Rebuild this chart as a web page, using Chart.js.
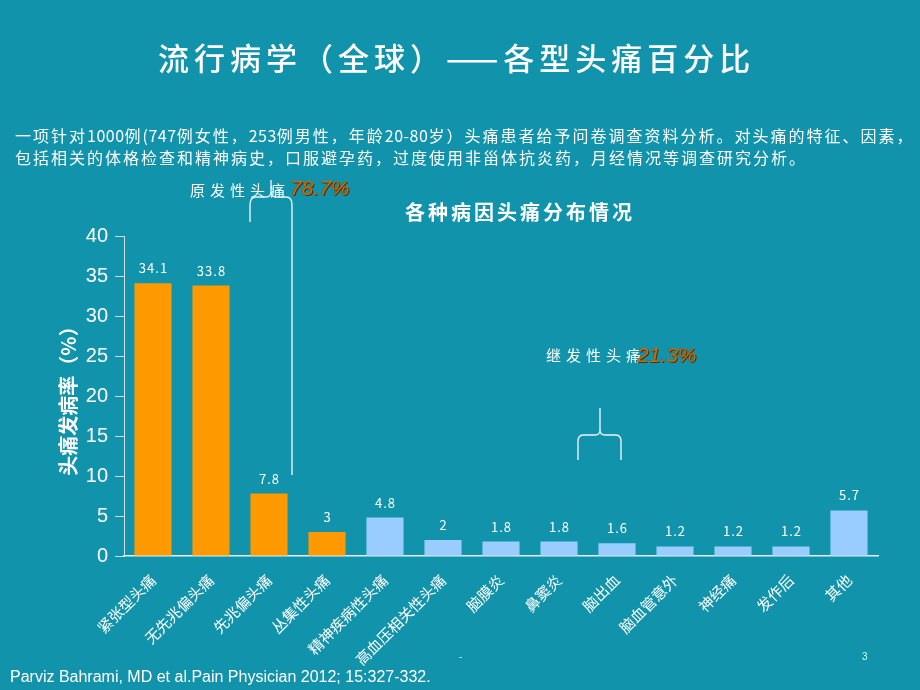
<!DOCTYPE html>
<html>
<head>
<meta charset="utf-8">
<script src="https://cdn.jsdelivr.net/npm/chart.js@4.4.1/dist/chart.umd.min.js"></script>
<style>
  html, body { margin:0; padding:0; }
  body { width:920px; height:690px; background:#1193ab; position:relative; overflow:hidden;
         font-family:"Noto Sans CJK SC","Noto Sans",sans-serif; color:#fff; }
  #wrap { position:absolute; left:0; top:0; width:920px; height:690px; }
  .t { position:absolute; white-space:nowrap; }
  #title { left:158px; top:35px; font-size:31px; line-height:44px; letter-spacing:5px; font-weight:500; }
  #para { left:15px; top:124px; font-size:16px; line-height:22px; letter-spacing:2px; }
  #para .n { letter-spacing:0.5px; }
  #ctitle { left:405px; top:198px; font-size:20px; line-height:28px; font-weight:bold; letter-spacing:3px; }
  .ann { font-size:15px; letter-spacing:5px; line-height:20px; }
  .pct { font-size:21px; font-style:italic; color:#c8700c; line-height:22px; letter-spacing:0px;
         text-shadow:1px 1px 0 #4a3010, -0.5px -0.5px 0 #6a4010; font-family:"Liberation Sans",Arial,sans-serif; }
  #foot { left:10px; top:666px; font-size:16px; line-height:22px; font-family:"Liberation Sans",Arial,sans-serif; }
  #pg { left:862px; top:651px; font-size:10px; color:#cfe; font-family:"Liberation Sans",Arial,sans-serif; }
  #dot { left:459px; top:651px; font-size:10px; color:#cfe; font-family:"Liberation Sans",Arial,sans-serif; }
  svg { position:absolute; left:0; top:0; }
</style>
</head>
<body>
<div id="wrap"><canvas id="c" width="920" height="690"></canvas></div>
<div class="t" id="title">流行病学（全球）——各型头痛百分比</div>
<div class="t" id="para">一项针对<span class="n">1000</span>例<span class="n">(747</span>例女性，<span class="n">253</span>例男性，年龄<span class="n">20-80</span>岁）头痛患者给予问卷调查资料分析。对头痛的特征、因素，<br>包括相关的体格检查和精神病史，口服避孕药，过度使用非甾体抗炎药，月经情况等调查研究分析。</div>
<div class="t" id="ctitle">各种病因头痛分布情况</div>
<div class="t ann" style="left:190px; top:180px;">原发性头痛</div>
<div class="t pct" style="left:290px; top:177px;">78.7%</div>
<div class="t ann" style="left:546px; top:345px;">继发性头痛</div>
<div class="t pct" style="left:637px; top:344px;">21.3%</div>
<div class="t" id="foot">Parviz Bahrami, MD et al.Pain Physician 2012; 15:327-332.</div>
<div class="t" id="pg">3</div>
<div class="t" id="dot">-</div>
<svg width="920" height="690">
  <path d="M271,180 L271,192 Q271,197 266,197 L256,197 Q250,197 250,205 L250,222 M271,192 Q271,197 276,197 L286,197 Q292,197 292,205 L292,475"
        fill="none" stroke="#e8f4f8" stroke-width="1.4"/>
  <path d="M600,408 L600,430 Q600,435 595,435 L583,435 Q578,435 578,442 L578,460 M600,430 Q600,435 605,435 L616,435 Q621,435 621,442 L621,460"
        fill="none" stroke="#e8f4f8" stroke-width="1.4"/>
</svg>
<script>
const categories = ['紧张型头痛','无先兆偏头痛','先兆偏头痛','丛集性头痛','精神疾病性头痛','高血压相关性头痛','脑膜炎','鼻窦炎','脑出血','脑血管意外','神经痛','发作后','其他'];
const incidence = [34.1, 33.8, 7.8, 3, 4.8, 2, 1.8, 1.8, 1.6, 1.2, 1.2, 1.2, 5.7];
const headacheType = ['原发性','原发性','原发性','原发性','继发性','继发性','继发性','继发性','继发性','继发性','继发性','继发性','继发性'];
const typeColors = { '原发性': '#ff9900', '继发性': '#99ccff' };
const yTicks = [0, 5, 10, 15, 20, 25, 30, 35, 40];

const valueLabels = {
  id: 'valueLabels',
  afterDatasetsDraw(chart) {
    const ctx = chart.ctx;
    const meta = chart.getDatasetMeta(0);
    ctx.save();
    ctx.fillStyle = '#ffffff';
    ctx.font = '13px "Noto Sans CJK SC", sans-serif';
    ctx.textAlign = 'center';
    ctx.textBaseline = 'middle';
    try { ctx.letterSpacing = '1px'; } catch (e) {}
    meta.data.forEach((bar, i) => {
      ctx.fillText(String(incidence[i]), bar.x + 0.5, bar.y - 15);
    });
    ctx.restore();
  }
};

new Chart(document.getElementById('c'), {
  type: 'bar',
  data: {
    labels: categories,
    datasets: [{
      data: incidence,
      backgroundColor: headacheType.map(t => typeColors[t]),
      borderWidth: 0,
      barPercentage: 0.64,
      categoryPercentage: 1
    }]
  },
  options: {
    responsive: false,
    animation: false,
    devicePixelRatio: 1,
    layout: { padding: { left: 50, top: 236, right: 42, bottom: 0 } },
    plugins: { legend: { display: false }, tooltip: { enabled: false } },
    scales: {
      x: {
        grid: { drawOnChartArea: false, drawTicks: false },
        border: { display: true, color: '#e6eef0', width: 1.5 },
        ticks: {
          color: '#ffffff', minRotation: 45, maxRotation: 45, autoSkip: false, padding: 15,
          font: { size: 15, family: '"Noto Sans CJK SC", sans-serif' }
        },
        afterFit(s) { s.height = 134; }
      },
      y: {
        min: 0, max: 40,
        afterBuildTicks(s) { s.ticks = yTicks.map(v => ({ value: v })); },
        grid: { drawOnChartArea: false, drawTicks: true, tickLength: 9, color: '#cfdfe4' },
        border: { display: true, color: '#cfdfe4', width: 1 },
        ticks: { color: '#ffffff', padding: 7, font: { size: 20, family: '"Liberation Sans", Arial, sans-serif' } },
        title: {
          display: true, text: '头痛发病率（%）', color: '#ffffff',
          font: { size: 20, weight: 'bold', family: '"Noto Sans CJK SC", sans-serif' },
          padding: { top: 6, bottom: 0 }
        },
        afterFit(s) { s.width = 74; }
      }
    }
  },
  plugins: [valueLabels]
});
</script>
</body>
</html>
